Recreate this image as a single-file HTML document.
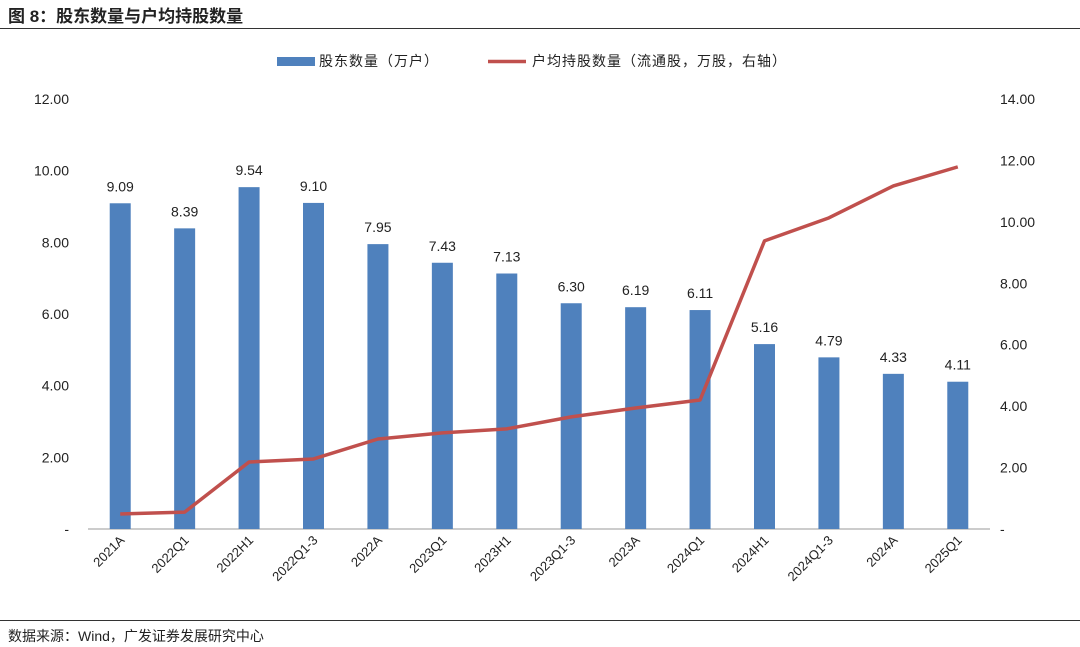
<!DOCTYPE html>
<html><head><meta charset="utf-8"><style>
body{margin:0;background:#fff;width:1080px;height:647px;overflow:hidden;font-family:"Liberation Sans","Noto Sans CJK SC",sans-serif;}
#title{position:absolute;left:8px;top:2px;font-size:17px;font-weight:bold;color:#222;}
#tline{position:absolute;left:0;top:28px;width:1080px;height:1px;background:#333;}
#fline{position:absolute;left:0;top:620px;width:1080px;height:1px;background:#333;}
#src{position:absolute;left:8px;top:626px;font-size:14px;color:#222;}
svg{position:absolute;left:0;top:0;}
</style></head><body>
<div id="title">图 8：股东数量与户均持股数量</div>
<div id="tline"></div>
<svg id="chart" width="1080" height="647"></svg>
<div id="fline"></div>
<div id="src">数据来源：Wind，广发证券发展研究中心</div>
<script>
const categories=["2021A","2022Q1","2022H1","2022Q1-3","2022A","2023Q1","2023H1","2023Q1-3","2023A","2024Q1","2024H1","2024Q1-3","2024A","2025Q1"];
const holders=[9.09,8.39,9.54,9.10,7.95,7.43,7.13,6.30,6.19,6.11,5.16,4.79,4.33,4.11];
const perHolder=[0.49,0.55,2.18,2.28,2.93,3.13,3.26,3.65,3.94,4.2,9.38,10.13,11.17,11.79];
const leftTicks=[0,2,4,6,8,10,12];
const rightTicks=[0,2,4,6,8,10,12,14];
const NS="http://www.w3.org/2000/svg";
const svg=document.getElementById('chart');
const x0=88,x1=990,y0=529,yTop=99;
const step=(x1-x0)/categories.length;
const xc=i=>x0+step*(i+0.5);
const yl=v=>y0-(v/12)*(y0-yTop);
const yr=v=>y0-(v/14)*(y0-yTop);
function mk(t,a,txt){const e=document.createElementNS(NS,t);for(const k in a)e.setAttribute(k,a[k]);if(txt!=null)e.textContent=txt;svg.appendChild(e);return e;}
leftTicks.forEach(v=>{const e=mk('text',{x:69,y:yl(v)+5,'text-anchor':'end','font-size':14,fill:'#222'},v===0?'-':v.toFixed(2));

});
rightTicks.forEach(v=>{const e=mk('text',{x:1000,y:yr(v)+5,'font-size':14,fill:'#222'},v===0?'-':v.toFixed(2));

});
const ax=mk('line',{x1:x0,x2:x1,y1:y0,y2:y0,stroke:'#999','stroke-width':1});


holders.forEach((v,i)=>{
const b=mk('rect',{x:xc(i)-10.5,y:yl(v),width:21,height:y0-yl(v),fill:'#4f81bd'});


const t=mk('text',{x:xc(i),y:yl(v)-12,'text-anchor':'middle','font-size':14,fill:'#222'},v.toFixed(2));


const l=mk('text',{x:0,y:0,'text-anchor':'end','font-size':13,fill:'#222',transform:`translate(${xc(i)+5},${y0+12}) rotate(-45)`},categories[i]);


});
const pl=mk('polyline',{points:perHolder.map((v,i)=>xc(i)+','+yr(v)).join(' '),fill:'none',stroke:'#c0504d','stroke-width':3.5,'stroke-linejoin':'round'});


const lg1=mk('rect',{x:277,y:57,width:38,height:9,fill:'#4f81bd'});


const lt1=mk('text',{x:319,y:66,'font-size':14,fill:'#222','letter-spacing':'1'},'股东数量（万户）');


const lg2=mk('line',{x1:488,x2:526,y1:61.5,y2:61.5,stroke:'#c0504d','stroke-width':3.5});


const lt2=mk('text',{x:532,y:66,'font-size':14,fill:'#222','letter-spacing':'1'},'户均持股数量（流通股，万股，右轴）');


</script>
</body></html>
